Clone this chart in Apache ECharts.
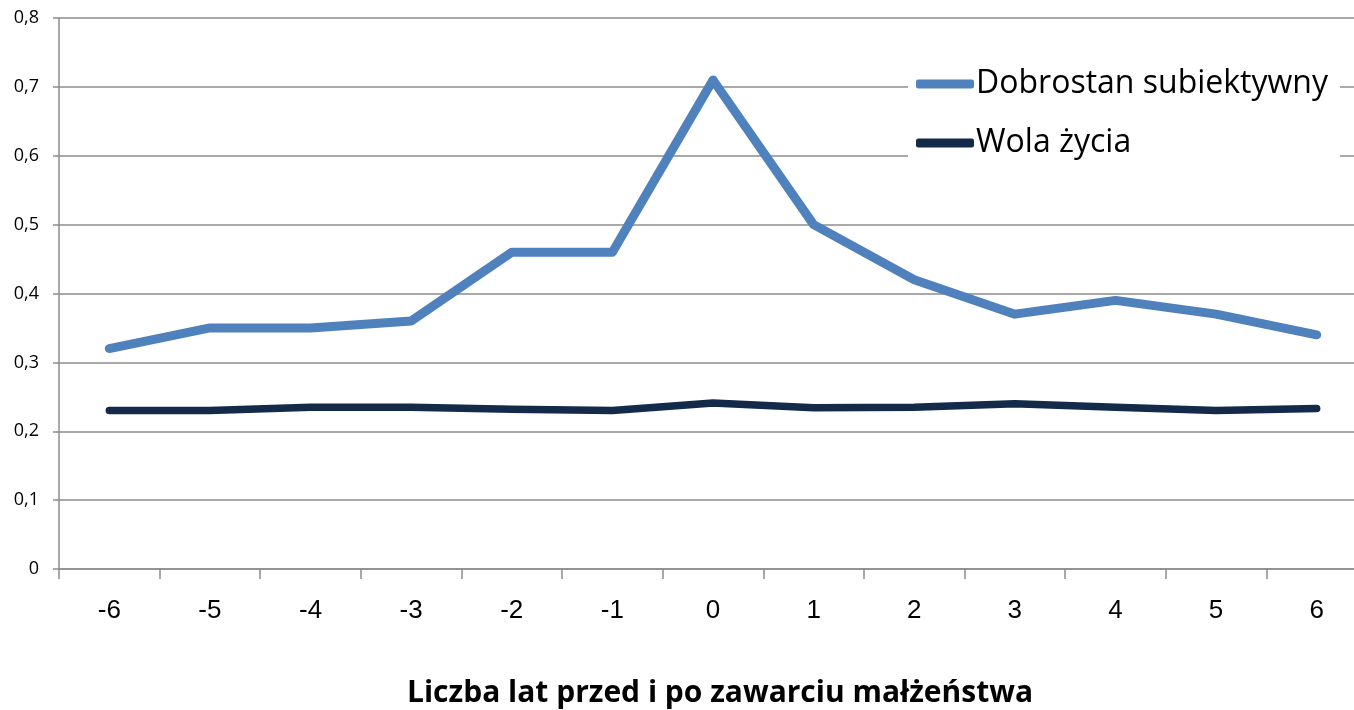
<!DOCTYPE html>
<html>
<head>
<meta charset="utf-8">
<script src="https://cdn.jsdelivr.net/npm/echarts@6/dist/echarts.min.js"></script>
<style>
  html, body { margin: 0; padding: 0; background: #fff; }
  #chart { width: 1354px; height: 710px; }
</style>
</head>
<body>
<div id="chart"></div>
<script>
// lata przed i po ślubie
const years = ["-6", "-5", "-4", "-3", "-2", "-1", "0", "1", "2", "3", "4", "5", "6"];
const dobrostan = [0.32, 0.35, 0.35, 0.36, 0.46, 0.46, 0.71, 0.50, 0.42, 0.37, 0.39, 0.37, 0.34];
const wolaZycia = [0.23, 0.23, 0.235, 0.235, 0.232, 0.23, 0.241, 0.234, 0.235, 0.24, 0.235, 0.23, 0.233];

const gridColor = "#8c8c8c";

const chart = echarts.init(document.getElementById("chart"));

const options = {
  animation: false,
  grid: {
    left: 59,
    top: 18,
    width: 1308,
    height: 551,
    outerBoundsMode: "none"
  },
  legend: {
    orient: "vertical",
    left: 908,
    top: 62,
    backgroundColor: "#fff",
    padding: [6, 12, 10, 8],
    itemWidth: 58,
    itemHeight: 9,
    itemGap: 27,
    icon: "roundRect",
    textStyle: {
      fontFamily: "Open Sans",
      fontSize: 32,
      color: "#000",
      padding: [0, 0, 0, -3]
    },
    data: ["Dobrostan subiektywny", "Wola życia"]
  },
  xAxis: {
    type: "category",
    data: years,
    boundaryGap: true,
    axisLine: { lineStyle: { color: gridColor, width: 1.5 } },
    axisTick: { show: true, length: 10, lineStyle: { color: gridColor, width: 1.5 } },
    axisLabel: {
      margin: 29,
      fontFamily: "Liberation Sans",
      fontSize: 26,
      color: "#000"
    },
    name: "Liczba lat przed i po zawarciu małżeństwa",
    nameLocation: "middle",
    nameGap: 109,
    nameTextStyle: {
      fontFamily: "Open Sans",
      fontWeight: "bold",
      fontSize: 30,
      color: "#000",
      padding: [0, 0, 0, 14]
    }
  },
  yAxis: {
    type: "value",
    min: 0,
    max: 0.8,
    interval: 0.1,
    axisLine: { show: true, lineStyle: { color: gridColor, width: 1.5 } },
    axisTick: { show: true, length: 6, lineStyle: { color: gridColor, width: 1.5 } },
    splitLine: { lineStyle: { color: gridColor, width: 1.5 } },
    axisLabel: {
      margin: 20,
      fontFamily: "Open Sans",
      fontSize: 18,
      color: "#000",
      formatter: function (v) {
        return v === 0 ? "0" : v.toFixed(1).replace(".", ",");
      }
    }
  },
  series: [
    {
      name: "Dobrostan subiektywny",
      type: "line",
      data: dobrostan,
      showSymbol: false,
      symbol: "none",
      color: "#4f81bd",
      lineStyle: { width: 9, cap: "round", join: "round" }
    },
    {
      name: "Wola życia",
      type: "line",
      data: wolaZycia,
      showSymbol: false,
      symbol: "none",
      color: "#142a4a",
      lineStyle: { width: 7.5, cap: "round", join: "round" }
    }
  ]
};

chart.setOption(options);
</script>
</body>
</html>
